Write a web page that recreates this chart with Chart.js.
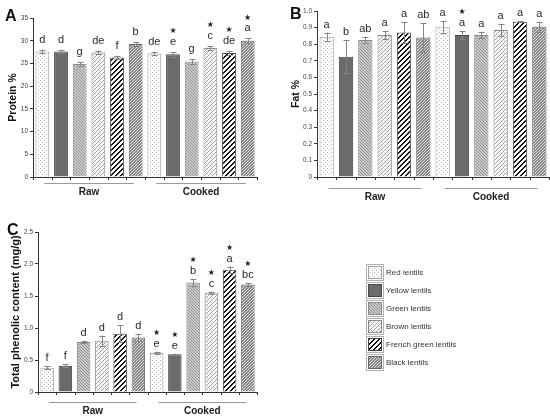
<!DOCTYPE html>
<html>
<head>
<meta charset="utf-8">
<script src="https://cdn.jsdelivr.net/npm/chart.js@4.4.0/dist/chart.umd.min.js"></script>
<style>
  html, body { margin: 0; padding: 0; background: #fff; }
  #wrap { position: relative; width: 550px; height: 418px; overflow: hidden; font-family: "Liberation Sans", Arial, sans-serif; }
  #wrap canvas.chart { position: absolute; }
  #legend { position: absolute; left: 366px; top: 263px; }
  .item { height: 18px; display: flex; align-items: center; font-size: 8px; color: #333; }
  .item canvas { margin-right: 2px; }
</style>
</head>
<body>
<div id="wrap">
  <canvas id="chartA" class="chart" width="275" height="200" style="left:0;top:0"></canvas>
  <canvas id="chartB" class="chart" width="275" height="200" style="left:275px;top:0"></canvas>
  <canvas id="chartC" class="chart" width="290" height="218" style="left:0;top:200px"></canvas>
  <div id="legend"></div>
</div>
<script>
// data
const lentils = ['Red lentils', 'Yellow lentils', 'Green lentils', 'Brown lentils', 'French green lentils', 'Black lentils'];
const stages = ['Raw', 'Cooked'];

const proteinRaw = [27.6, 27.6, 24.9, 27.4, 26.3, 29.3];
const proteinCooked = [27.2, 27.0, 25.4, 28.4, 27.3, 30.0];
const proteinRawSd = [0.4, 0.4, 0.4, 0.4, 0.4, 0.4];
const proteinCookedSd = [0.4, 0.5, 0.5, 0.4, 0.4, 0.5];
const proteinRawLetters = ['d', 'd', 'g', 'de', 'f', 'b'];
const proteinCookedLetters = ['de', 'e', 'g', 'c', 'de', 'a'];
const proteinCookedStars = [false, true, false, true, true, true];

const fatRaw = [0.845, 0.725, 0.825, 0.855, 0.87, 0.84];
const fatCooked = [0.905, 0.855, 0.855, 0.885, 0.935, 0.905];
const fatRawSd = [0.025, 0.1, 0.02, 0.025, 0.062, 0.085];
const fatCookedSd = [0.035, 0.025, 0.018, 0.035, 0.002, 0.03];
const fatRawLetters = ['a', 'b', 'ab', 'a', 'a', 'ab'];
const fatCookedLetters = ['a', 'a', 'a', 'a', 'a', 'a'];
const fatCookedStars = [false, true, false, false, false, false];

const phenolRaw = [0.38, 0.41, 0.78, 0.80, 0.91, 0.85];
const phenolCooked = [0.61, 0.59, 1.71, 1.55, 1.91, 1.68];
const phenolRawSd = [0.02, 0.02, 0.02, 0.08, 0.13, 0.06];
const phenolCookedSd = [0.01, 0.01, 0.05, 0.02, 0.05, 0.02];
const phenolRawLetters = ['f', 'f', 'd', 'd', 'd', 'd'];
const phenolCookedLetters = ['e', 'e', 'b', 'c', 'a', 'bc'];
const phenolCookedStars = [true, true, true, true, true, true];

const noStars = [false, false, false, false, false, false];
const FONT = '"Liberation Sans", Arial, sans-serif';

// fill patterns
function tile(w, h, bg, draw) {
  const c = document.createElement('canvas');
  c.width = w; c.height = h;
  const x = c.getContext('2d');
  x.fillStyle = bg;
  x.fillRect(0, 0, w, h);
  draw(x);
  return x.createPattern(c, 'repeat');
}
function px(x, col, pts) {
  x.fillStyle = col;
  pts.forEach(p => x.fillRect(p[0], p[1], 1, 1));
}

const fills = [
  tile(4, 4, '#fff', x => px(x, '#b4b4b4', [[0, 0], [2, 2]])),
  '#6b6b6b',
  tile(3, 3, '#cdcdcd', x => px(x, '#8c8c8c', [[0, 0], [1, 1], [2, 2]])),
  tile(4, 4, '#fff', x => {
    px(x, '#a0a0a0', [[3, 0], [2, 1], [1, 2], [0, 3]]);
    px(x, '#d8d8d8', [[1, 0], [3, 2]]);
  }),
  tile(5, 5, '#fff', x => {
    const pts = [];
    for (let i = 0; i < 5; i++) for (let j = 0; j < 5; j++) if ((i + j) % 5 < 2) pts.push([i, j]);
    px(x, '#111', pts);
  }),
  tile(3, 3, '#858585', x => px(x, '#e4e4e4', [[0, 0], [2, 1], [1, 2]]))
];
const borders = ['#a0a0a0', '#474747', '#8a8a8a', '#8a8a8a', '#444', '#666'];

// error bars, letters, group labels
const annotate = {
  id: 'annotate',
  afterDatasetsDraw(chart, args, o) {
    const ctx = chart.ctx;
    const ys = chart.scales.y, xs = chart.scales.x;
    const area = chart.chartArea;
    ctx.save();
    chart.data.datasets.forEach((ds, i) => {
      chart.getDatasetMeta(i).data.forEach((bar, j) => {
        const v = ds.data[j];
        const e = o.sd[j][i];
        const yt = ys.getPixelForValue(v + e);
        const yb = ys.getPixelForValue(v - e);
        const bx = Math.round(bar.x) + 0.5;
        ctx.strokeStyle = '#858585';
        ctx.lineWidth = 1;
        ctx.beginPath();
        ctx.moveTo(bx, yb); ctx.lineTo(bx, yt);
        ctx.moveTo(bx - 3, Math.round(yt) + 0.5); ctx.lineTo(bx + 3, Math.round(yt) + 0.5);
        ctx.moveTo(bx - 3, Math.round(yb) + 0.5); ctx.lineTo(bx + 3, Math.round(yb) + 0.5);
        ctx.stroke();

        const base = yt - o.gap;
        ctx.fillStyle = '#2a2a2a';
        ctx.textAlign = 'center';
        ctx.textBaseline = 'alphabetic';
        ctx.font = '11px ' + FONT;
        ctx.fillText(o.letters[j][i], bar.x, base);
        if (o.stars[j][i]) {
          ctx.fillStyle = '#222';
          ctx.font = '8px "DejaVu Sans"';
          ctx.textBaseline = 'middle';
          ctx.fillText('\u2605', bar.x, base - 14);
        }
      });
    });

    // small tick marks between bars
    ctx.strokeStyle = '#333';
    ctx.lineWidth = 1;
    ctx.beginPath();
    const slots = chart.data.labels.length * chart.data.datasets.length;
    const sw = (area.right - area.left) / slots;
    for (let k = 0; k <= slots; k++) {
      const tx = Math.round(area.left + k * sw) + 0.5;
      ctx.moveTo(tx, area.bottom);
      ctx.lineTo(tx, area.bottom + 3);
    }
    ctx.stroke();

    // group lines and labels
    chart.data.labels.forEach((lab, j) => {
      const cx = xs.getPixelForValue(j);
      const half = (area.right - area.left) / chart.data.labels.length * 0.4;
      const ly = Math.round(area.bottom + o.lineOff) + 0.5;
      ctx.strokeStyle = '#9a9a9a';
      ctx.beginPath();
      ctx.moveTo(cx - half, ly);
      ctx.lineTo(cx + half, ly);
      ctx.stroke();
      ctx.fillStyle = '#222';
      ctx.font = 'bold 10px ' + FONT;
      ctx.textAlign = 'center';
      ctx.textBaseline = 'alphabetic';
      ctx.fillText(lab, cx, area.bottom + o.textOff);
    });

    // panel letter
    ctx.fillStyle = '#111';
    ctx.font = 'bold 16px ' + FONT;
    ctx.textAlign = 'left';
    ctx.fillText(o.panel, o.panelX, o.panelY);
    ctx.restore();
  }
};

function makeChart(id, raw, cooked, cfg) {
  return new Chart(document.getElementById(id), {
    type: 'bar',
    data: {
      labels: stages,
      datasets: lentils.map((name, i) => ({
        label: name,
        data: [raw[i], cooked[i]],
        backgroundColor: fills[i],
        borderColor: borders[i],
        borderWidth: 1,
        barPercentage: 0.74,
        categoryPercentage: 1
      }))
    },
    options: {
      responsive: false,
      animation: false,
      layout: { padding: { left: cfg.padL, top: cfg.top, right: cfg.right, bottom: 0 } },
      plugins: {
        legend: { display: false },
        tooltip: { enabled: false },
        annotate: cfg.ann
      },
      scales: {
        x: {
          grid: { display: false },
          ticks: { display: false },
          border: { display: true, color: '#333', width: 1 },
          afterFit: s => { s.height = cfg.xh; }
        },
        y: {
          min: 0,
          max: cfg.max,
          ticks: { stepSize: cfg.step, font: { size: 6.5, family: FONT }, color: '#444', padding: 2 },
          grid: { drawOnChartArea: false, drawTicks: true, tickLength: 3, color: '#333' },
          border: { display: true, color: '#333', width: 1 },
          title: { display: true, text: cfg.title, font: { size: cfg.titleSize, weight: 'bold', family: FONT }, color: '#111', padding: { top: 0, bottom: 2 } },
          afterFit: s => { s.width = cfg.yw - cfg.padL; }
        }
      }
    },
    plugins: [annotate]
  });
}

makeChart('chartA', proteinRaw, proteinCooked, {
  padL: 7, top: 18, right: 18, xh: 23, yw: 33, max: 35, step: 5, title: 'Protein %', titleSize: 10.5,
  ann: {
    sd: [proteinRawSd, proteinCookedSd],
    letters: [proteinRawLetters, proteinCookedLetters],
    stars: [noStars, proteinCookedStars],
    gap: 7, lineOff: 5.5, textOff: 18, panel: 'A', panelX: 5, panelY: 21
  }
});

makeChart('chartB', fatRaw, fatCooked, {
  padL: 15, top: 11, right: 1, xh: 23, yw: 42, max: 1, step: 0.1, title: 'Fat %', titleSize: 10.5,
  ann: {
    sd: [fatRawSd, fatCookedSd],
    letters: [fatRawLetters, fatCookedLetters],
    stars: [noStars, fatCookedStars],
    gap: 5, lineOff: 11, textOff: 23, panel: 'B', panelX: 15, panelY: 19
  }
});

makeChart('chartC', phenolRaw, phenolCooked, {
  padL: 9, top: 32, right: 33, xh: 26, yw: 38, max: 2.5, step: 0.5, title: 'Total phenolic content (mg/g)', titleSize: 11,
  ann: {
    sd: [phenolRawSd, phenolCookedSd],
    letters: [phenolRawLetters, phenolCookedLetters],
    stars: [noStars, phenolCookedStars],
    gap: 5, lineOff: 10, textOff: 22, panel: 'C', panelX: 7, panelY: 35
  }
});

// legend
const legend = document.getElementById('legend');
lentils.forEach((name, i) => {
  const row = document.createElement('div');
  row.className = 'item';
  const sw = document.createElement('canvas');
  sw.width = 18; sw.height = 17;
  const c = sw.getContext('2d');
  c.fillStyle = '#fff';
  c.fillRect(0, 0, 18, 17);
  c.strokeStyle = '#b0b0b0';
  c.strokeRect(0.5, 0.5, 17, 16);
  c.fillStyle = fills[i];
  c.fillRect(3, 3, 12, 11);
  c.strokeStyle = borders[i];
  c.strokeRect(2.5, 2.5, 13, 12);
  const txt = document.createElement('span');
  txt.textContent = name;
  row.appendChild(sw);
  row.appendChild(txt);
  legend.appendChild(row);
});
</script>
</body>
</html>
